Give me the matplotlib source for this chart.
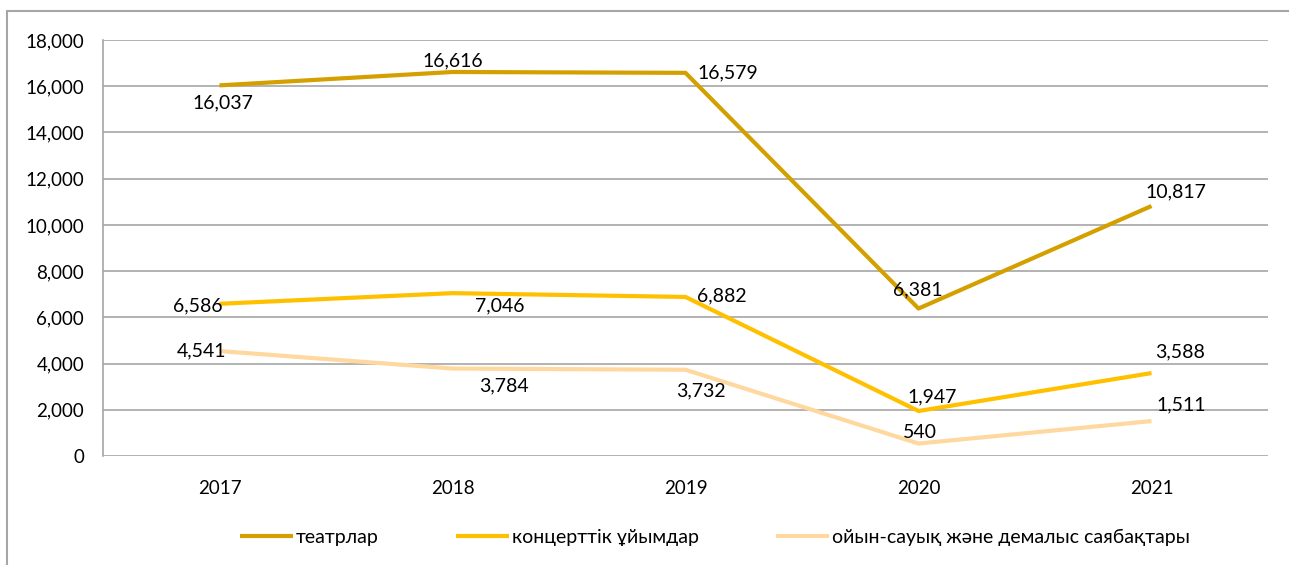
import matplotlib
matplotlib.use("Agg")
import matplotlib.pyplot as plt
from matplotlib.patches import Rectangle

years = ["2017", "2018", "2019", "2020", "2021"]
theatres = [16037, 16616, 16579, 6381, 10817]
concerts = [6586, 7046, 6882, 1947, 3588]
parks = [4541, 3784, 3732, 540, 1511]
series_names = ["театрлар", "концерттік ұйымдар", "ойын-сауық және демалыс саябақтары"]
yticks = [0, 2000, 4000, 6000, 8000, 10000, 12000, 14000, 16000, 18000]

colors = ["#D4A000", "#FFC000", "#FFD8A0"]

plt.rcParams['font.family'] = ['Lato', 'DejaVu Sans']

fig = plt.figure(figsize=(12.89, 5.65), dpi=100)
ax = fig.add_axes([103/1289, 1-456/565, (1268-103)/1289, (456-40)/565])

x = list(range(len(years)))
lines = []
for vals, c, name in zip([theatres, concerts, parks], colors, series_names):
    l, = ax.plot(x, vals, color=c, lw=3, label=name, solid_capstyle='butt', zorder=3)
    lines.append(l)

# label offsets in pixels (dx, dy, ha, va)
offs = {
    0: [(3, -18, 'center', 'center'), (0, 11, 'center', 'center'), (12, 0, 'left', 'center'),
        (-1, 19, 'center', 'center'), (24, 14, 'center', 'center')],
    1: [(3, -2, 'right', 'center'), (47, -13, 'center', 'center'), (12, 1, 'left', 'center'),
        (14, 14, 'center', 'center'), (29, 21, 'center', 'center')],
    2: [(7, 0, 'right', 'center'), (51, -17, 'center', 'center'), (15, -21, 'center', 'center'),
        (1, 11, 'center', 'center'), (30, 16, 'center', 'center')],
}
for si, vals in enumerate([theatres, concerts, parks]):
    for i, v in enumerate(vals):
        dx, dy, ha, va = offs[si][i]
        ax.annotate(f"{v:,}", (i, v), xytext=(dx, dy), textcoords='offset pixels',
                    ha=ha, va=va, fontsize=14, color='black', zorder=5)

ax.set_xlim(-0.5, len(years) - 0.5)
ax.set_ylim(0, 18000)
ax.set_yticks(yticks)
ax.set_yticklabels([f"{t:,}" for t in yticks])
ax.set_xticks(x)
ax.set_xticklabels(years)
ax.tick_params(axis='both', length=0, labelsize=13.5)
ax.tick_params(axis='y', pad=13.5)
ax.tick_params(axis='x', pad=17)
ax.grid(axis='y', color='#A6A6A6', lw=1.2)
ax.set_axisbelow(True)
for s in ['top', 'right', 'bottom']:
    ax.spines[s].set_visible(False)
ax.spines['left'].set_color('#A6A6A6')
ax.spines['left'].set_linewidth(1.2)

leg = fig.legend(handles=lines, loc='center', bbox_to_anchor=(715/1289, 1-537/565),
                 ncol=3, frameon=False, fontsize=14, handlelength=2.7, handletextpad=0.15,
                 columnspacing=4.0)

fig.patches.append(Rectangle((7/1289, -0.1), 1.2, (565-11)/565 + 0.1, transform=fig.transFigure,
                             fill=False, edgecolor='#A6A6A6', lw=1.5))

fig.savefig("out.png", dpi=100)
